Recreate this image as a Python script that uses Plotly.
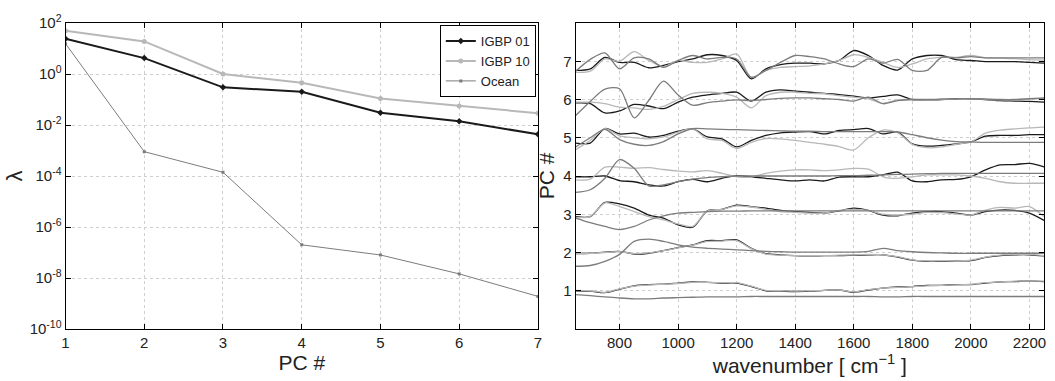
import plotly.graph_objects as go

# ---------------- data ----------------
PC_NUM = [1, 2, 3, 4, 5, 6, 7]
EIG_IGBP01 = [24, 4.2, 0.3, 0.2, 0.03, 0.014, 0.0043]
EIG_IGBP10 = [50, 19, 1.0, 0.45, 0.11, 0.056, 0.029]
EIG_OCEAN = [15.5, 9e-4, 1.4e-4, 2e-7, 8e-8, 1.45e-8, 1.9e-9]

WN = [650, 700, 750, 800, 850, 900, 950, 1000, 1050, 1100, 1150, 1200, 1250,
      1300, 1350, 1400, 1450, 1500, 1550, 1600, 1650, 1700, 1750, 1800, 1850,
      1900, 1950, 2000, 2050, 2100, 2150, 2200, 2250]

# loadings (offset by PC number), rows = PC1..PC7
LOAD_IGBP01 = [
    [1.00, 0.99, 0.95, 1.04, 1.13, 1.16, 1.17, 1.20, 1.23, 1.22, 1.20, 1.20, 1.11, 1.00, 0.99, 0.98, 0.99, 1.01, 1.02, 0.96, 1.02, 1.07, 1.10, 1.11, 1.14, 1.14, 1.16, 1.16, 1.20, 1.23, 1.24, 1.26, 1.24],
    [1.97, 1.98, 2.01, 2.03, 1.96, 1.98, 2.05, 2.13, 2.20, 2.31, 2.31, 2.33, 2.11, 1.97, 1.94, 1.92, 1.91, 1.92, 1.92, 1.93, 1.94, 1.94, 1.88, 1.80, 1.77, 1.77, 1.78, 1.79, 1.87, 1.92, 1.94, 1.94, 1.91],
    [2.94, 2.94, 3.31, 3.27, 3.16, 2.98, 2.90, 2.72, 2.66, 3.09, 3.13, 3.24, 3.20, 3.16, 3.10, 3.07, 3.05, 3.03, 3.09, 3.16, 3.10, 2.98, 2.96, 3.03, 3.07, 3.07, 3.03, 2.98, 3.07, 3.11, 3.10, 3.03, 2.84],
    [3.98, 3.98, 4.00, 3.88, 3.85, 3.77, 3.74, 3.85, 3.91, 3.85, 3.94, 4.01, 3.98, 3.94, 3.90, 3.87, 3.90, 3.87, 3.97, 3.98, 3.98, 4.03, 4.10, 3.87, 3.85, 3.90, 3.91, 3.98, 4.16, 4.29, 4.30, 4.33, 4.24],
    [4.86, 4.86, 5.24, 5.10, 5.12, 5.02, 5.06, 5.17, 5.23, 5.02, 4.97, 4.76, 4.93, 5.06, 5.13, 5.15, 5.16, 5.10, 5.19, 5.21, 5.24, 5.10, 5.15, 4.84, 4.78, 4.80, 4.84, 4.89, 5.04, 5.06, 5.06, 5.08, 5.08],
    [5.91, 5.89, 5.65, 5.70, 5.87, 5.83, 5.76, 5.93, 6.06, 6.12, 6.16, 6.19, 5.96, 6.19, 6.25, 6.22, 6.19, 6.16, 6.13, 6.09, 6.04, 6.08, 6.12, 6.00, 5.99, 6.00, 6.02, 6.02, 6.00, 5.97, 5.96, 5.95, 5.93],
    [6.76, 6.80, 7.10, 6.97, 6.97, 6.83, 6.89, 6.99, 7.06, 7.17, 7.15, 7.02, 6.54, 6.80, 6.91, 6.95, 6.95, 6.93, 7.02, 7.28, 7.15, 6.89, 6.77, 7.06, 7.15, 7.15, 7.04, 7.02, 6.99, 6.99, 6.99, 6.97, 6.95],
]
LOAD_IGBP10 = [
    [1.01, 1.00, 0.96, 1.05, 1.12, 1.15, 1.17, 1.19, 1.22, 1.22, 1.21, 1.21, 1.12, 1.01, 1.00, 0.99, 1.00, 1.01, 1.02, 0.97, 1.03, 1.07, 1.09, 1.11, 1.13, 1.14, 1.15, 1.17, 1.21, 1.23, 1.25, 1.26, 1.25],
    [1.98, 1.98, 2.00, 2.02, 1.97, 1.99, 2.05, 2.12, 2.19, 2.29, 2.30, 2.31, 2.10, 1.96, 1.93, 1.92, 1.92, 1.92, 1.93, 1.94, 1.95, 1.94, 1.89, 1.81, 1.78, 1.78, 1.78, 1.80, 1.88, 1.93, 1.95, 1.95, 1.92],
    [2.92, 2.94, 3.30, 3.20, 3.07, 2.94, 2.85, 2.75, 2.68, 3.08, 3.13, 3.22, 3.19, 3.13, 3.07, 3.05, 3.03, 3.03, 3.10, 3.13, 3.10, 3.00, 2.98, 3.00, 3.05, 3.04, 3.01, 2.98, 3.11, 3.18, 3.16, 3.20, 2.94],
    [3.90, 3.92, 4.23, 4.23, 4.20, 4.22, 4.17, 4.13, 4.11, 4.14, 4.07, 3.98, 3.97, 4.07, 4.13, 4.16, 4.16, 4.14, 4.16, 4.20, 4.18, 3.98, 3.94, 3.98, 4.03, 4.03, 4.03, 4.00, 3.94, 3.85, 3.81, 3.81, 3.81],
    [4.69, 4.93, 5.24, 5.05, 5.00, 4.97, 5.02, 5.15, 5.23, 4.97, 4.93, 4.72, 4.88, 4.98, 4.97, 4.93, 4.88, 4.83, 4.77, 4.68, 5.00, 5.20, 5.13, 4.83, 4.74, 4.76, 4.83, 4.89, 5.12, 5.20, 5.23, 5.26, 5.28],
    [5.93, 5.93, 5.89, 5.80, 5.78, 5.74, 5.82, 6.00, 6.16, 6.19, 6.16, 6.06, 5.78, 6.10, 6.19, 6.19, 6.16, 6.15, 6.10, 6.06, 6.02, 5.90, 5.99, 6.00, 5.99, 6.00, 6.01, 6.02, 6.00, 5.99, 5.99, 6.01, 6.03],
    [6.71, 6.74, 7.06, 7.00, 7.25, 7.02, 6.86, 7.02, 6.97, 6.97, 7.06, 7.19, 6.58, 6.76, 6.84, 6.86, 6.88, 6.93, 7.02, 7.17, 7.10, 6.97, 6.84, 6.93, 7.06, 7.10, 7.10, 7.15, 7.09, 7.08, 7.07, 7.04, 7.03],
]
LOAD_OCEAN = [
    [0.90, 0.87, 0.84, 0.81, 0.79, 0.79, 0.81, 0.82, 0.83, 0.84, 0.84, 0.84, 0.85, 0.85, 0.85, 0.85, 0.85, 0.85, 0.85, 0.85, 0.85, 0.84, 0.84, 0.85, 0.85, 0.85, 0.85, 0.85, 0.85, 0.85, 0.85, 0.85, 0.85],
    [1.64, 1.66, 1.77, 1.95, 2.29, 2.35, 2.29, 2.20, 2.14, 2.11, 2.09, 2.07, 2.05, 2.03, 2.02, 2.01, 2.01, 2.01, 2.01, 2.01, 2.03, 2.11, 2.05, 2.02, 2.00, 1.99, 1.98, 1.98, 1.98, 1.98, 1.98, 1.98, 1.98],
    [2.90, 2.78, 2.68, 2.60, 2.68, 2.85, 2.96, 3.03, 3.05, 3.07, 3.08, 3.08, 3.09, 3.09, 3.09, 3.09, 3.09, 3.09, 3.09, 3.09, 3.09, 3.09, 3.09, 3.09, 3.09, 3.09, 3.09, 3.09, 3.09, 3.09, 3.09, 3.09, 3.09],
    [3.57, 3.64, 3.94, 4.43, 4.20, 3.74, 3.77, 3.85, 3.92, 3.96, 3.98, 4.00, 4.00, 4.00, 4.00, 4.00, 4.00, 4.00, 4.01, 4.01, 4.02, 4.03, 4.04, 4.05, 4.06, 4.07, 4.07, 4.07, 4.07, 4.07, 4.07, 4.07, 4.07],
    [4.76, 5.00, 5.22, 4.95, 4.83, 4.80, 4.90, 5.10, 5.24, 5.23, 5.22, 5.21, 5.20, 5.19, 5.18, 5.17, 5.17, 5.16, 5.16, 5.16, 5.16, 5.16, 5.15, 5.08, 5.00, 4.94, 4.90, 4.89, 4.88, 4.88, 4.88, 4.88, 4.88],
    [5.58, 5.95, 6.27, 6.28, 5.52, 5.98, 6.48, 6.12, 5.85, 5.92, 5.96, 5.99, 5.97, 6.00, 6.03, 6.04, 6.04, 6.02, 6.00, 5.96, 6.06, 5.89, 5.97, 6.00, 6.00, 6.01, 6.01, 6.02, 6.01, 6.00, 6.00, 6.02, 6.04],
    [6.74, 7.05, 7.22, 6.80, 7.09, 7.06, 6.84, 7.02, 7.15, 7.06, 7.10, 7.06, 6.58, 6.76, 6.97, 7.15, 7.12, 7.06, 6.93, 6.86, 7.06, 6.95, 7.05, 6.76, 6.76, 7.10, 7.09, 7.12, 7.09, 7.09, 7.09, 7.09, 7.09],
]

SERIES = ["IGBP 01", "IGBP 10", "Ocean"]
LOG_TICKS = [-10, -8, -6, -4, -2, 0, 2]
WN_TICKS = [800, 1000, 1200, 1400, 1600, 1800, 2000, 2200]

# ---------------- styles ----------------
C_BLACK = "#1a1a1a"
C_LIGHT = "#b8b8b8"
C_MID = "#7c7c7c"
FONT = "Liberation Sans, Arial, sans-serif"
TXT = "#222222"

fig = go.Figure()

# left panel: eigenvalues
fig.add_trace(go.Scatter(x=PC_NUM, y=EIG_IGBP01, name=SERIES[0], mode="lines+markers",
                         line=dict(color=C_BLACK, width=2),
                         marker=dict(symbol="diamond", size=5, color=C_BLACK),
                         xaxis="x", yaxis="y"))
fig.add_trace(go.Scatter(x=PC_NUM, y=EIG_IGBP10, name=SERIES[1], mode="lines+markers",
                         line=dict(color=C_LIGHT, width=2),
                         marker=dict(symbol="circle", size=5, color=C_LIGHT),
                         xaxis="x", yaxis="y"))
fig.add_trace(go.Scatter(x=PC_NUM, y=EIG_OCEAN, name=SERIES[2], mode="lines+markers",
                         line=dict(color=C_MID, width=1),
                         marker=dict(symbol="square", size=3, color=C_MID),
                         xaxis="x", yaxis="y"))

# right panel: loadings
for k in range(7):
    for vals, col in ((LOAD_IGBP01[k], C_BLACK), (LOAD_IGBP10[k], C_LIGHT), (LOAD_OCEAN[k], C_MID)):
        fig.add_trace(go.Scatter(x=WN, y=vals, mode="lines", showlegend=False,
                                 line=dict(color=col, width=1.3, shape="spline", smoothing=0.8),
                                 xaxis="x2", yaxis="y2", hoverinfo="skip"))

W, H = 1055, 381
L1, R1 = 62 / W, 538 / W
L2, R2 = 576 / W, 1048 / W

axis_common = dict(showline=True, linecolor="black", linewidth=1, mirror="ticks",
                   ticks="inside", ticklen=5, tickcolor="black",
                   showgrid=True, gridcolor="#cfcfcf", griddash="dot", gridwidth=1,
                   zeroline=False, tickfont=dict(family=FONT, size=15, color=TXT))

fig.update_layout(
    width=W, height=H,
    margin=dict(l=0, r=0, t=23, b=52),
    paper_bgcolor="white", plot_bgcolor="white",
    font=dict(family=FONT, size=15, color=TXT),
    xaxis=dict(domain=[L1, R1], range=[1, 7], tickvals=PC_NUM,
               title=dict(text="PC #", font=dict(size=21), standoff=0), **axis_common),
    yaxis=dict(type="log", range=[-10, 2], tickvals=[10 ** v for v in LOG_TICKS],
               ticktext=["10<sup>%d</sup>" % v for v in LOG_TICKS],
               title=dict(text="λ", font=dict(size=22), standoff=0), anchor="x", **axis_common),
    xaxis2=dict(domain=[L2, R2], range=[650, 2250], tickvals=WN_TICKS, anchor="y2",
                title=dict(text="wavenumber [ cm<sup>−1</sup> ]", font=dict(size=21), standoff=4),
                **axis_common),
    yaxis2=dict(range=[0, 8], tickvals=PC_NUM, anchor="x2",
                title=dict(text="PC #", font=dict(size=21), standoff=2), **axis_common),
    legend=dict(x=R1 - 0.002, y=0.993, xanchor="right", yanchor="top",
                bgcolor="white", bordercolor="black", borderwidth=1,
                font=dict(family=FONT, size=13, color=TXT),
                tracegroupgap=0, itemwidth=30),
)

fig.write_html("out.html")
